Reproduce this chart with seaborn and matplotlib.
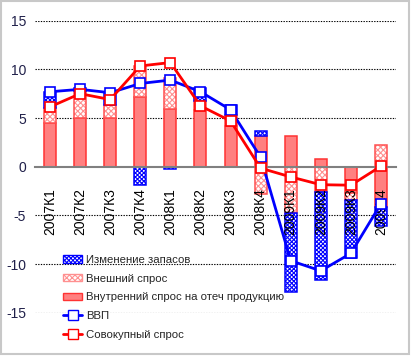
import numpy as np
import matplotlib
matplotlib.use("Agg")
import matplotlib.pyplot as plt
import seaborn as sns
from matplotlib import font_manager
from matplotlib.patches import Rectangle, Patch
from matplotlib.lines import Line2D

quarters = ["2007К1", "2007К2", "2007К3", "2007К4",
            "2008К1", "2008К2", "2008К3", "2008К4",
            "2009К1", "2009К2", "2009К3", "2009К4"]
# components of demand (stacked bars)
domestic = [4.45, 5.0, 5.0, 7.2, 5.9, 5.8, 4.2, 3.15, 3.15, 0.75, -2.7, -4.1]
external = [1.6, 2.8, 1.3, 3.1, 3.25, 0.9, 1.1, -2.8, -4.75, -2.6, -0.7, 2.2]
stock = [1.6, 0.3, 1.35, -1.9, -0.25, 1.35, 1.0, 0.5, -8.15, -9.05, -6.0, -2.0]
# lines
gdp = [7.7, 7.95, 7.6, 8.55, 8.9, 7.7, 5.85, 0.97, -9.66, -10.7, -8.9, -3.8]
agg_demand = [6.15, 7.5, 6.9, 10.35, 10.7, 6.25, 4.7, -0.15, -1.05, -1.85, -1.9, 0.05]

labels = ["Изменение запасов", "Внешний спрос",
          "Внутренний спрос на отеч продукцию", "ВВП", "Совокупный спрос"]

sns.set_style("white")
names = {f.name for f in font_manager.fontManager.ttflist}
narrow = "Liberation Sans Narrow" if "Liberation Sans Narrow" in names else None
plt.rcParams["font.family"] = ["Liberation Sans", "DejaVu Sans"]
plt.rcParams["hatch.linewidth"] = 0.8

fig = plt.figure(figsize=(4.11, 3.57), dpi=100)
ax = fig.add_axes([35 / 411, 1 - 312.7 / 357, 361 / 411, 292 / 357])

x = np.arange(len(quarters))
pos = np.zeros(len(x))
neg = np.zeros(len(x))
# (values, face, hatch colour, hatch, outline)
styles = [
    (domestic, "#FF8080", "#FF8080", None, "#FF3333"),
    (external, "white", "#FF9090", "xxxxxx", "#FF5050"),
    (stock, "white", "#0000FF", "xxxxxxxx", "#0000FF"),
]
for vals, face, hcol, hatch, edge in styles:
    v = np.array(vals)
    bottom = np.where(v >= 0, pos, neg)
    ax.bar(x, v, 0.4, bottom=bottom, color=face, edgecolor=hcol, hatch=hatch,
           linewidth=0, zorder=2)
    ax.bar(x, v, 0.4, bottom=bottom, fill=False, edgecolor=edge, linewidth=1.1, zorder=2)
    pos = pos + np.where(v >= 0, v, 0)
    neg = neg + np.where(v < 0, v, 0)

sns.lineplot(x=x, y=gdp, ax=ax, color="#0000FF", lw=2, marker="s", ms=7,
             mfc="white", mec="#0000FF", mew=1.2, zorder=4)
sns.lineplot(x=x, y=agg_demand, ax=ax, color="#FF0000", lw=2, marker="s", ms=7,
             mfc="white", mec="#FF0000", mew=1.2, zorder=5)

for yv in [-15, -10, -5, 5, 10, 15]:
    ax.axhline(yv, color="black", lw=0.8, ls=(0, (1.2, 1.2)), zorder=1)

ax.set_xlim(-0.5, 11.5)
ax.set_ylim(-15, 15)
ax.set_axisbelow(False)
ax.xaxis.set_zorder(3)
for s in ["top", "right", "left"]:
    ax.spines[s].set_visible(False)
ax.spines["bottom"].set_position(("data", 0))
ax.spines["bottom"].set_color("#808080")
ax.spines["bottom"].set_linewidth(1.5)
ax.spines["bottom"].set_zorder(3)

ax.set_xticks(x)
ax.set_xticklabels(quarters, rotation=90, fontsize=10, color="black")
ax.set_xticks(np.arange(-0.5, 12, 1), minor=True)
ax.tick_params(axis="x", which="major", length=0, pad=15.5)
ax.tick_params(axis="x", which="minor", length=3.6, width=1.2, color="#808080", direction="out")
ax.set_yticks([-15, -10, -5, 0, 5, 10, 15])
ax.set_yticklabels(["-15", "-10", "-5", "0", "5", "10", "15"], fontsize=10, color="#20204a")
ax.tick_params(axis="y", length=0, pad=6.5)
ax.set_xlabel("")
ax.set_ylabel("")

handles = [
    Patch(facecolor="white", edgecolor="#0000FF", hatch="xxxxxxxx"),
    Patch(facecolor="white", edgecolor="#FF9090", hatch="xxxxxx"),
    Patch(facecolor="#FF8080", edgecolor="#FF3333"),
    Line2D([], [], color="#0000FF", lw=2, marker="s", ms=7, mfc="white", mec="#0000FF"),
    Line2D([], [], color="#FF0000", lw=2, marker="s", ms=7, mfc="white", mec="#FF0000"),
]
leg_prop = {"family": narrow, "size": 9.5} if narrow else {"size": 8.2}
fig.legend(handles, labels, loc="upper left", bbox_to_anchor=(63 / 411, 1 - 255 / 357),
           frameon=False, prop=leg_prop, borderpad=0,
           borderaxespad=0, handlelength=1.7, handleheight=0.65, handletextpad=0.3,
           labelspacing=0.76)

fig.patches.append(Rectangle((0.003, 0.008), 0.992, 0.988, transform=fig.transFigure,
                             fill=False, edgecolor="#C8C8C8", lw=1.5))

fig.savefig("out.png", dpi=100)
